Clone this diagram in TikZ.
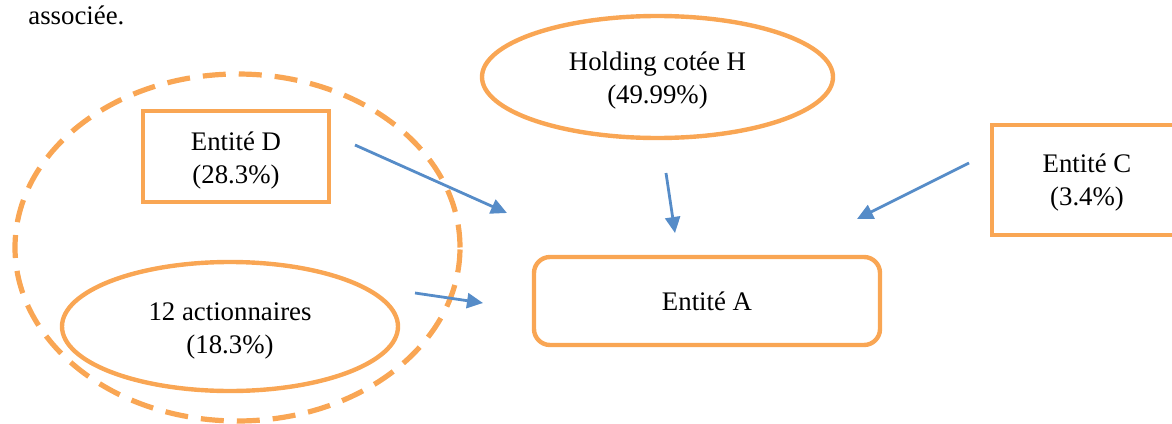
\documentclass[tikz,border=0pt]{standalone}
\usepackage{fontspec}
\setmainfont{Liberation Serif}
\usetikzlibrary{shapes.geometric,arrows.meta}
\definecolor{orng}{RGB}{249,166,84}
\definecolor{blu}{RGB}{86,140,200}
\begin{document}
\begin{tikzpicture}[x=0.5pt,y=-0.5pt,
  every node/.style={font=\fontsize{13.4}{16.5}\selectfont},
  obox/.style={draw=orng,line width=2.2pt,inner sep=0pt},
  oell/.style={obox,ellipse},
  arr/.style={draw=blu,line width=1.4pt,-{Triangle[length=8pt,width=7.5pt]}},
  txt/.style={align=center,inner sep=0pt}]
\useasboundingbox (0,0) rectangle (1172,423);
% group
\node[oell,line width=2.6pt,dash pattern=on 11.5pt off 6.5pt,minimum width=222.5pt,minimum height=173.5pt] (G) at (237.5,247.5) {};
% shapes
\node[obox,minimum width=93pt,minimum height=45.5pt] (D) at (236,156.5) {};
\node[oell,minimum width=168pt,minimum height=64.5pt] (S) at (230,326.5) {};
\node[oell,minimum width=175.5pt,minimum height=61pt] (H) at (657.5,77) {};
\node[obox,rounded corners=8pt,minimum width=173pt,minimum height=44pt] (A) at (707,301) {Entité A};
\node[obox,minimum width=95pt,minimum height=55pt] (C) at (1087,180) {};
% texts
\node[txt] (Dt) at ([yshift=-2pt]D.center) {Entité D\\(28.3\%)};
\node[txt] (St) at ([yshift=-2pt]S.center) {12 actionnaires\\(18.3\%)};
\node[txt] (Ht) at ([yshift=-2pt]H.center) {Holding cotée H\\(49.99\%)};
\node[txt] (Ct) at ([yshift=-1.5pt]C.center) {Entité C\\(3.4\%)};
\node[inner sep=0pt,anchor=base west] (top) at (28,25) {associée.};
% arrow ends
\coordinate (d1) at (355,145);
\coordinate (d2) at (507,213);
\coordinate (s1) at (415,293);
\coordinate (s2) at (483,303);
\coordinate (h1) at (666,173);
\coordinate (h2) at (675,233);
\coordinate (c1) at (969,163);
\coordinate (c2) at (857,219);
\draw[arr] (d1) -- (d2);
\draw[arr] (s1) -- (s2);
\draw[arr] (h1) -- (h2);
\draw[arr] (c1) -- (c2);
\end{tikzpicture}
\end{document}
